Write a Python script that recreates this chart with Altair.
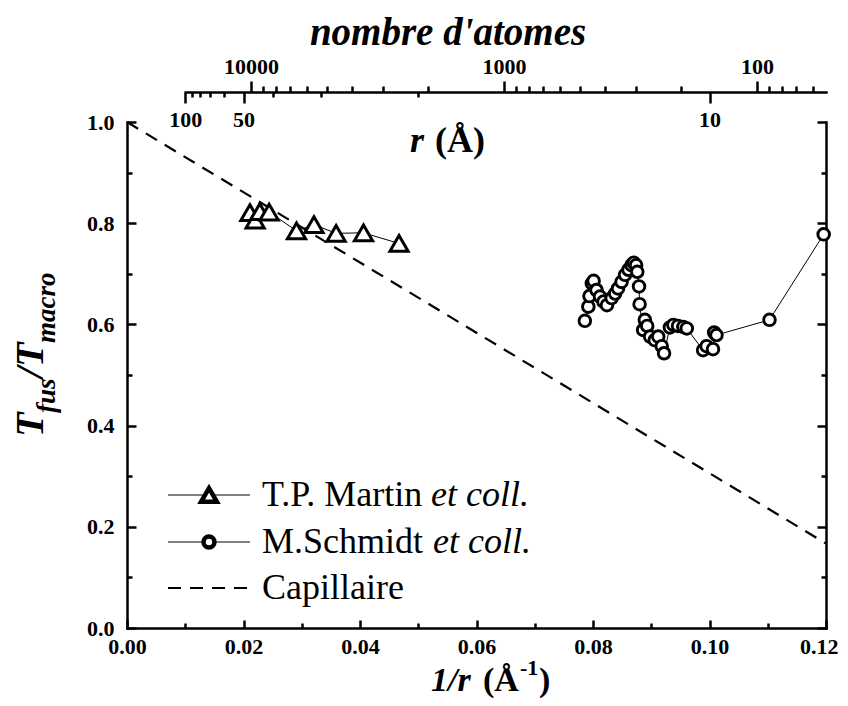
import altair as alt
import pandas as pd

# ---------------- data ----------------
martin_x = [0.0211, 0.0220, 0.0228, 0.0244, 0.0291, 0.0321, 0.0359, 0.0406, 0.0467]
martin_y = [0.821, 0.806, 0.823, 0.822, 0.785, 0.797, 0.780, 0.781, 0.760]

schmidt_x = [0.0786, 0.0792, 0.0794, 0.0798, 0.0801, 0.0806, 0.0812, 0.0818, 0.0824,
             0.0832, 0.0838, 0.0843, 0.0849, 0.0855, 0.0861, 0.0866, 0.0870, 0.0874,
             0.0876, 0.0879, 0.0880, 0.0886, 0.0889, 0.0893, 0.0898, 0.0906, 0.0912,
             0.0918, 0.0922, 0.0932, 0.0938, 0.0946, 0.0955, 0.0961, 0.0989, 0.0995,
             0.1006, 0.1008, 0.1012, 0.1103, 0.1196]
schmidt_y = [0.607, 0.635, 0.656, 0.681, 0.686, 0.668, 0.655, 0.645, 0.638,
             0.652, 0.661, 0.671, 0.684, 0.698, 0.708, 0.717, 0.722, 0.717,
             0.704, 0.675, 0.640, 0.589, 0.609, 0.597, 0.576, 0.569, 0.576,
             0.557, 0.543, 0.594, 0.599, 0.597, 0.595, 0.592, 0.549, 0.557,
             0.551, 0.584, 0.579, 0.609, 0.778]

capillaire_x = [0.0, 0.12]
capillaire_y = [1.0, 0.167]

x_major = [0.00, 0.02, 0.04, 0.06, 0.08, 0.10, 0.12]
x_minor = [0.01, 0.03, 0.05, 0.07, 0.09, 0.11]
y_major = [0.0, 0.2, 0.4, 0.6, 0.8, 1.0]
y_minor = [0.1, 0.3, 0.5, 0.7, 0.9]
r_major = [100, 50, 10]
r_minor = [90, 80, 70, 60, 40, 30, 20]
n_major = [10000, 1000, 100]
n_minor = [9000, 8000, 7000, 6000, 5000, 4000, 3000, 2000,
           900, 800, 700, 600, 500, 400, 300, 200, 90, 80, 70, 60]

legend_labels = ["T.P. Martin", "M.Schmidt", "Capillaire"]
legend_italic = "et coll."

# ---------------- layout ----------------
W, H = 699, 506
FONT = "Liberation Serif"

martin = pd.DataFrame({"x": martin_x, "y": martin_y})
schmidt = pd.DataFrame({"x": schmidt_x, "y": schmidt_y})
cap = pd.DataFrame({"x": capillaire_x, "y": capillaire_y})
one = pd.DataFrame({"x": [0.05], "y": [0.5], "n": [1000.0], "r": [0.05]})

xs = alt.Scale(domain=[0, 0.12], nice=False, zero=False)
ys = alt.Scale(domain=[0, 1], nice=False, zero=False)
rs = alt.Scale(domain=[0.01, 0.12], range=[58.25, W], nice=False, zero=False)
ns = alt.Scale(type="log", domain=[53.37, 30913], reverse=True, nice=False)

common = dict(domainColor="black", tickColor="black", labelColor="black",
              labelFont=FONT, labelFontSize=22, labelFontWeight="bold",
              domainWidth=2.5, tickWidth=2.5, grid=False, labelFlush=False,
              labelOverlap=False, title=None, domainCap="square")

# main data layers
cap_line = alt.Chart(cap).mark_line(color="black", strokeWidth=2.2, strokeDash=[13, 9]).encode(
    x=alt.X("x:Q", scale=xs, axis=alt.Axis(
        orient="bottom", values=x_major, format=".2f", ticks=False, labelPadding=8,
        labelAlign={"condition": {"test": "datum.value > 0.115", "value": "right"}, "value": "center"},
        labelOffset={"condition": {"test": "datum.value > 0.115", "value": 12}, "value": 0},
        **common)),
    y=alt.Y("y:Q", scale=ys, axis=alt.Axis(orient="left", values=y_major, format=".1f",
                                           ticks=False, labelPadding=13, **common)),
)
martin_line = alt.Chart(martin).mark_line(color="black", strokeWidth=1).encode(
    x=alt.X("x:Q", scale=xs, axis=None), y=alt.Y("y:Q", scale=ys, axis=None))
martin_pts = alt.Chart(martin).mark_point(shape="triangle-up", size=330, filled=True, fill="white",
                                          stroke="black", strokeWidth=3, opacity=1).encode(
    x=alt.X("x:Q", scale=xs, axis=None), y=alt.Y("y:Q", scale=ys, axis=None))
schmidt_line = alt.Chart(schmidt).mark_line(color="black", strokeWidth=1).encode(
    x=alt.X("x:Q", scale=xs, axis=None), y=alt.Y("y:Q", scale=ys, axis=None))
schmidt_pts = alt.Chart(schmidt).mark_point(shape="circle", size=135, filled=True, fill="white",
                                            stroke="black", strokeWidth=2.9, opacity=1).encode(
    x=alt.X("x:Q", scale=xs, axis=None), y=alt.Y("y:Q", scale=ys, axis=None))


def axis_layer(xenc, yenc):
    return alt.Chart(one).mark_point(opacity=0).encode(x=xenc, y=yenc)


noax = dict(labels=False, domain=False)
# inward major / minor ticks on bottom and left
l_ticks_major = axis_layer(
    alt.X("x:Q", scale=xs, axis=alt.Axis(orient="top", offset=-H, values=x_major, tickSize=8, **noax, **common)),
    alt.Y("y:Q", scale=ys, axis=alt.Axis(orient="right", offset=-W, values=y_major, tickSize=9, **noax, **common)))
l_ticks_minor = axis_layer(
    alt.X("x:Q", scale=xs, axis=alt.Axis(orient="top", offset=-H, values=x_minor, tickSize=5, **noax, **common)),
    alt.Y("y:Q", scale=ys, axis=alt.Axis(orient="right", offset=-W, values=y_minor, tickSize=5, **noax, **common)))
# right spine + r axis (top, ticks downward)
l_r_major = axis_layer(
    alt.X("r:Q", scale=rs, axis=alt.Axis(orient="bottom", offset=-(H + 30), values=[1 / r for r in r_major],
                                         labelExpr="round(1/datum.value)", tickSize=11, labelPadding=6,
                                         **common)),
    alt.Y("y:Q", scale=ys, axis=alt.Axis(orient="left", offset=-W, values=y_major, tickSize=9,
                                         labels=False, **common)))
l_r_minor = axis_layer(
    alt.X("r:Q", scale=rs, axis=alt.Axis(orient="bottom", offset=-(H + 30), values=[1 / r for r in r_minor],
                                         tickSize=5, **noax, **common)),
    alt.Y("y:Q", scale=ys, axis=alt.Axis(orient="left", offset=-W, values=y_minor, tickSize=5, **noax, **common)))
# number of atoms axis (top, ticks upward)
l_n_major = axis_layer(
    alt.X("n:Q", scale=ns, axis=alt.Axis(orient="top", offset=30, values=n_major, format="d",
                                         tickSize=11, labelPadding=3, domain=False,
                                         **common)),
    alt.Y("y:Q", scale=ys, axis=None))
l_n_minor = axis_layer(
    alt.X("n:Q", scale=ns, axis=alt.Axis(orient="top", offset=30, values=n_minor, tickSize=6, **noax, **common)),
    alt.Y("y:Q", scale=ys, axis=None))


def txt(s, x, y, size, weight="bold", style="normal", align="left", angle=0):
    return alt.Chart(one).mark_text(font=FONT, fontSize=size, fontWeight=weight, fontStyle=style,
                                    align=align, baseline="alphabetic", angle=angle, color="black").encode(
        x=alt.value(x), y=alt.value(y), text=alt.value(s))


texts = [
    txt("nombre d'atomes", 321, -77, 39, style="italic", align="center"),
    txt("r", 297, 30, 36, style="italic", align="right"),
    txt("(Å)", 308, 30, 36),
    # x title
    txt("1/r", 304, 569, 34, style="italic"),
    txt("(Å", 356, 569, 34),
    txt("-1", 393, 553, 22),
    txt(")", 412, 569, 34),
    # y title
    txt("T", -84, 315, 40, style="italic", angle=270),
    txt("fus", -72, 291, 27, style="italic", angle=270),
    txt("/T", -84, 256, 40, style="italic", angle=270),
    txt("macro", -72, 221, 27, style="italic", angle=270),
]

# legend
leg = []
rows_y = [373, 420, 466]
FS_LEG = 36
for i, (lab, yy) in enumerate(zip(legend_labels, rows_y)):
    if i < 2:
        leg.append(alt.Chart(one).mark_rule(color="black", strokeWidth=1).encode(
            x=alt.value(41), x2=alt.value(123), y=alt.value(yy)))
        leg.append(alt.Chart(one).mark_point(
            shape="triangle-up" if i == 0 else "circle", size=250 if i == 0 else 120,
            filled=True, fill="white", stroke="black", strokeWidth=4.5, opacity=1).encode(
            x=alt.value(82), y=alt.value(yy)))
        leg.append(txt(lab, 135, yy + 11, FS_LEG, weight="normal"))
        leg.append(txt(legend_italic, 304 if i == 0 else 306, yy + 11, FS_LEG, weight="normal", style="italic"))
    else:
        leg.append(alt.Chart(one).mark_rule(color="black", strokeWidth=2.2, strokeDash=[13, 9]).encode(
            x=alt.value(41), x2=alt.value(123), y=alt.value(yy)))
        leg.append(txt(lab, 135, yy + 11, FS_LEG, weight="normal"))

chart = alt.layer(
    cap_line, martin_line, schmidt_line, martin_pts, schmidt_pts,
    l_ticks_major, l_ticks_minor, l_r_major, l_r_minor, l_n_major, l_n_minor,
    *texts, *leg,
).resolve_scale(x="independent", y="independent").properties(
    width=W, height=H,
    autosize=alt.AutoSizeParams(type="none"),
    padding={"left": 119, "top": 114, "right": 14, "bottom": 70},
).configure_view(strokeOpacity=0)

chart.save("out.html", embed_options={"renderer": "svg", "actions": False})
